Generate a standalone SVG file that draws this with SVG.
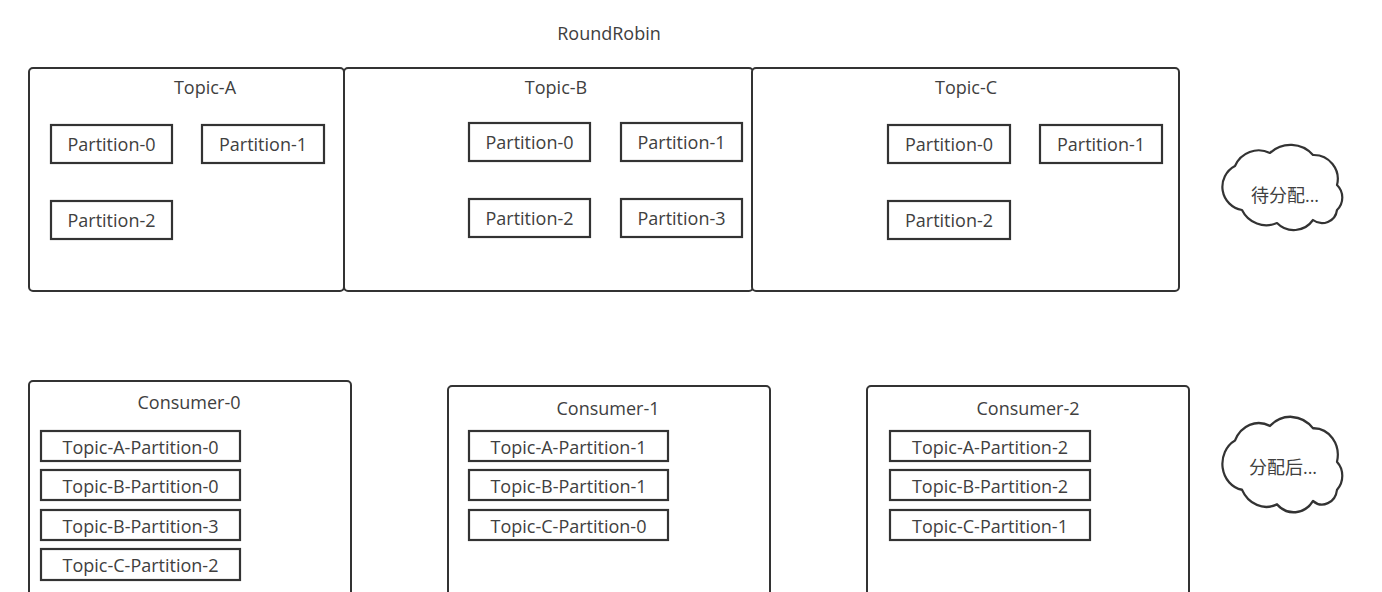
<svg xmlns="http://www.w3.org/2000/svg" width="1382" height="592" viewBox="0 0 1382 592">
<style>
  .frame { fill: #ffffff; stroke: #333333; stroke-width: 2; }
  .part { fill: #ffffff; stroke: #333333; stroke-width: 2.2; }
  .cloud { fill: #ffffff; stroke: #333333; stroke-width: 2.2; stroke-linejoin: round; }
  text { font-family: "Open Sans", "Noto Sans CJK SC", sans-serif; font-size: 18px; fill: #404040; text-anchor: middle; }
</style>
<defs>
  <path id="cloudShape" d="M12,21 A25.7,25.7 0 0 1 47,8 A30,30 0 0 1 90,10 A24,24 0 0 1 114,40 A17.4,17.4 0 0 1 114,65 A15,15 0 0 1 90,75 A23.4,23.4 0 0 1 54,78 A27,27 0 0 1 19,65 A23.5,23.5 0 0 1 12,21 Z"/>
</defs>
<rect width="1382" height="592" fill="#ffffff"/>
<text x="609" y="40">RoundRobin</text>

<g id="topic-a">
  <rect class="frame" x="29" y="68" width="315" height="223" rx="4"/>
  <text x="205" y="94">Topic-A</text>
  <g id="topic-a-p0"><rect class="part" x="51" y="125" width="121" height="38"/><text x="111.5" y="151">Partition-0</text></g>
  <g id="topic-a-p1"><rect class="part" x="202" y="125" width="122" height="38"/><text x="263" y="151">Partition-1</text></g>
  <g id="topic-a-p2"><rect class="part" x="51" y="201" width="121" height="38"/><text x="111.5" y="227">Partition-2</text></g>
</g>

<g id="topic-b">
  <rect class="frame" x="344" y="68" width="409" height="223" rx="4"/>
  <text x="556" y="94">Topic-B</text>
  <g id="topic-b-p0"><rect class="part" x="469" y="123" width="121" height="38"/><text x="529.5" y="149">Partition-0</text></g>
  <g id="topic-b-p1"><rect class="part" x="621" y="123" width="121" height="38"/><text x="681.5" y="149">Partition-1</text></g>
  <g id="topic-b-p2"><rect class="part" x="469" y="199" width="121" height="38"/><text x="529.5" y="225">Partition-2</text></g>
  <g id="topic-b-p3"><rect class="part" x="621" y="199" width="121" height="38"/><text x="681.5" y="225">Partition-3</text></g>
</g>

<g id="topic-c">
  <rect class="frame" x="752" y="68" width="427" height="223" rx="4"/>
  <text x="966" y="94">Topic-C</text>
  <g id="topic-c-p0"><rect class="part" x="888" y="125" width="122" height="38"/><text x="949" y="151">Partition-0</text></g>
  <g id="topic-c-p1"><rect class="part" x="1040" y="125" width="122" height="38"/><text x="1101" y="151">Partition-1</text></g>
  <g id="topic-c-p2"><rect class="part" x="888" y="201" width="122" height="38"/><text x="949" y="227">Partition-2</text></g>
</g>

<g id="cloud-pending">
  <use href="#cloudShape" class="cloud" transform="translate(1223,145)"/>
  <text x="1285" y="202">待分配...</text>
</g>

<g id="consumer-0">
  <rect class="frame" x="29" y="381" width="322" height="230" rx="4"/>
  <text x="189" y="409">Consumer-0</text>
  <g><rect class="part" x="41" y="431" width="199" height="30"/><text x="140.5" y="454">Topic-A-Partition-0</text></g>
  <g><rect class="part" x="41" y="470" width="199" height="30"/><text x="140.5" y="493">Topic-B-Partition-0</text></g>
  <g><rect class="part" x="41" y="510" width="199" height="30"/><text x="140.5" y="533">Topic-B-Partition-3</text></g>
  <g><rect class="part" x="41" y="549" width="199" height="31"/><text x="140.5" y="572">Topic-C-Partition-2</text></g>
</g>

<g id="consumer-1">
  <rect class="frame" x="448" y="386" width="322" height="230" rx="4"/>
  <text x="608" y="415">Consumer-1</text>
  <g><rect class="part" x="469" y="431" width="199" height="30"/><text x="568.5" y="454">Topic-A-Partition-1</text></g>
  <g><rect class="part" x="469" y="470" width="199" height="30"/><text x="568.5" y="493">Topic-B-Partition-1</text></g>
  <g><rect class="part" x="469" y="510" width="199" height="30"/><text x="568.5" y="533">Topic-C-Partition-0</text></g>
</g>

<g id="consumer-2">
  <rect class="frame" x="867" y="386" width="322" height="230" rx="4"/>
  <text x="1028" y="415">Consumer-2</text>
  <g><rect class="part" x="890" y="431" width="200" height="30"/><text x="990" y="454">Topic-A-Partition-2</text></g>
  <g><rect class="part" x="890" y="470" width="200" height="30"/><text x="990" y="493">Topic-B-Partition-2</text></g>
  <g><rect class="part" x="890" y="510" width="200" height="30"/><text x="990" y="533">Topic-C-Partition-1</text></g>
</g>

<g id="cloud-assigned">
  <use href="#cloudShape" class="cloud" transform="translate(1223,417) scale(1,1.12)"/>
  <text x="1283" y="474">分配后...</text>
</g>

<g id="connectors"></g>
</svg>
